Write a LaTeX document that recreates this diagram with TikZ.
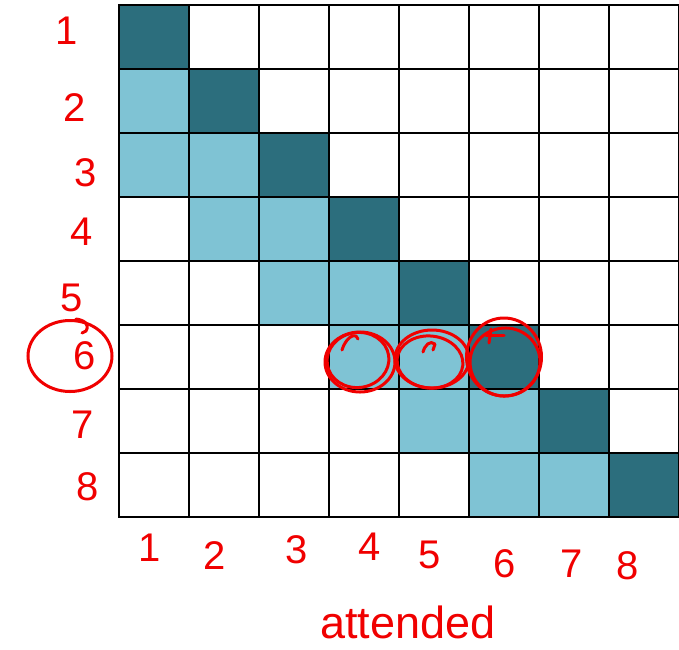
\documentclass[tikz,border=0pt]{standalone}
\usepackage{fontspec}
\setmainfont{Liberation Sans}
\usetikzlibrary{shapes.geometric}
\definecolor{darkcell}{RGB}{44,110,125}
\definecolor{lightcell}{RGB}{127,195,212}
\definecolor{ink}{RGB}{240,0,0}
\begin{document}
\begin{tikzpicture}[x=1pt,y=-1pt,
  cell/.style={draw=black,line width=2.6pt,minimum width=70pt,minimum height=64pt,inner sep=0pt,outer sep=0pt,anchor=north west},
  lab/.style={text=ink,font=\fontsize{40}{40}\selectfont,inner sep=0pt},
  ring/.style={draw=ink,line width=3pt,ellipse,inner sep=0pt},
  stroke/.style={draw=ink,line width=3pt,line cap=round,line join=round}]
\useasboundingbox (0,0) rectangle (679,649);
\foreach \i in {1,...,8}{
  \foreach \j in {1,...,8}{
    \pgfmathtruncatemacro\d{\i-\j}
    \ifnum\d=0 \def\fc{darkcell}\else\ifnum\d=1 \def\fc{lightcell}\else\ifnum\d=2 \def\fc{lightcell}\else\def\fc{white}\fi\fi\fi
    \node[cell,fill=\fc] (c\i\j) at ({119+70*(\j-1)},{5+64*(\i-1)}) {};
  }
}
% row labels
\node[lab] (r1) at (67,31) {1};
\node[lab] (r2) at (75,108) {2};
\node[lab] (r3) at (86,173) {3};
\node[lab] (r4) at (82,232) {4};
\node[lab] (r5) at (72,298) {5};
\node[lab] (r6) at (85,356) {6};
\node[lab] (r7) at (83,425) {7};
\node[lab] (r8) at (88,487) {8};
% column labels
\node[lab] (k1) at (150,548) {1};
\node[lab] (k2) at (215,556) {2};
\node[lab] (k3) at (297,550) {3};
\node[lab] (k4) at (370,547) {4};
\node[lab] (k5) at (430,555) {5};
\node[lab] (k6) at (505,564) {6};
\node[lab] (k7) at (572,564) {7};
\node[lab] (k8) at (628,566) {8};
\node[lab,font=\fontsize{45}{45}\selectfont] (att) at (408,622) {attended};
% circle around row label 6
\node[ring,minimum width=84pt,minimum height=71pt] (o6) at (70,356) {};
\draw[stroke] (o6.north) ++(6,0) .. controls (84,320) and (90,324) .. (86,331) -- (82,333);
% circles in row 6
\node[ring,minimum width=70pt,minimum height=60pt] (oa) at (360,362) {};
\node[ring,minimum width=62pt,minimum height=55pt,rotate=8] (oa2) at (358,360) {};
\draw[stroke] (342,350) .. controls (345,340) and (352,334) .. (356,336) -- (358,339);
\node[ring,minimum width=74pt,minimum height=58pt] (ob) at (432,359) {};
\node[ring,minimum width=66pt,minimum height=52pt,rotate=-6] (ob2) at (430,362) {};
\draw[stroke] (423,352) .. controls (425,345) and (430,340) .. (435,344) -- (433,350);
\node[ring,minimum width=75pt,minimum height=78pt] (oc) at (504,357) {};
\node[ring,minimum width=70pt,minimum height=68pt,rotate=10] (oc2) at (505,362) {};
\draw[stroke] (486,335) -- (504,335);
\draw[stroke] (491,329) -- (489,343);
\end{tikzpicture}
\end{document}
